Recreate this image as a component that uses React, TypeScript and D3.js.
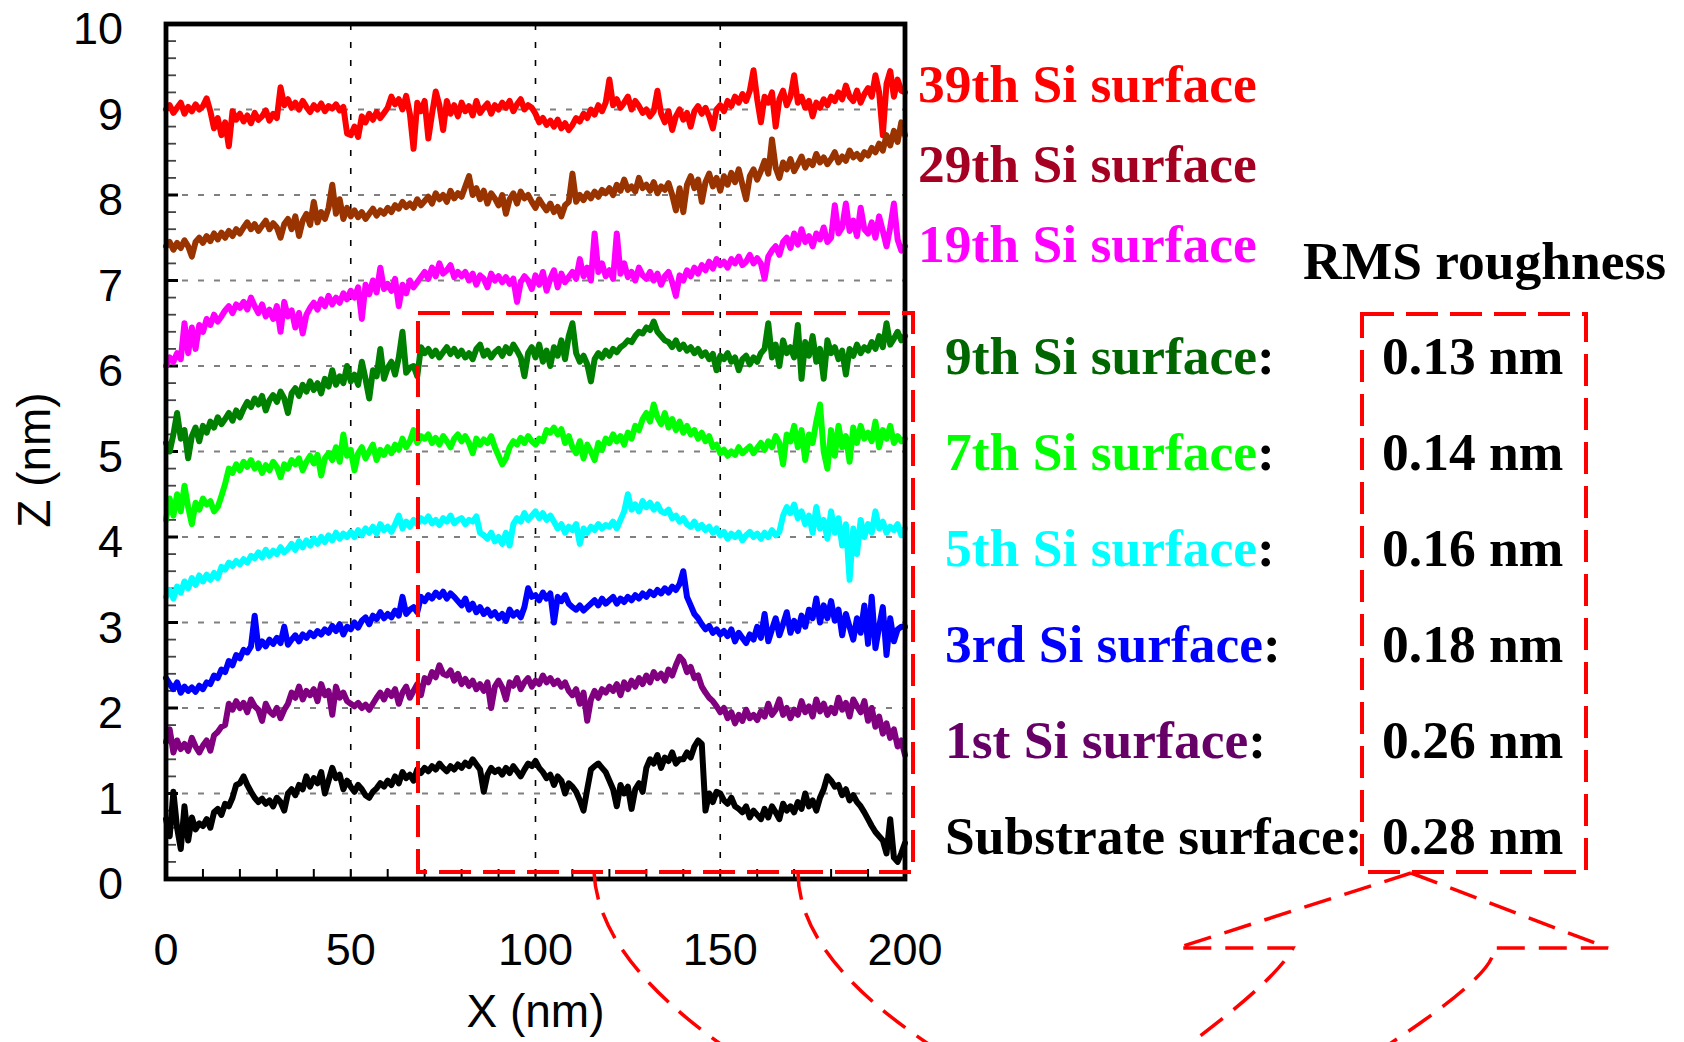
import * as d3 from 'd3'

const WIDTH = 1684
const HEIGHT = 1042
const MARGIN = { top: 24, right: 905, bottom: 879, left: 166 }

// profile heights (nm), one sample per nm from X = 0 to 200
const SI39 = [
  9.00, 9.05, 8.96, 9.02, 9.08, 8.95, 9.03, 8.98, 9.06, 9.00,
  9.04, 9.13, 8.98, 8.78, 8.90, 8.70, 8.85, 8.57, 8.98, 8.88,
  8.95, 8.86, 8.93, 8.84, 8.96, 8.88, 8.92, 8.99, 8.87, 8.95,
  8.90, 9.26, 9.05, 9.12, 9.02, 9.08, 9.00, 9.10, 9.03, 8.97,
  9.05, 9.00, 9.07, 8.98, 9.04, 9.01, 9.06, 8.99, 9.03, 8.72,
  8.70, 8.80, 8.68, 8.92, 8.85, 8.95, 8.88, 8.97, 8.90, 8.96,
  9.02, 9.15, 9.06, 9.12, 9.00, 9.16, 8.95, 8.54, 9.08, 8.98,
  9.10, 8.66, 8.95, 9.21, 9.05, 8.76, 9.10, 8.95, 9.05, 8.92,
  9.08, 8.98, 9.04, 8.93, 9.10, 8.96, 9.02, 9.07, 8.95, 9.05,
  9.00, 9.08, 9.02, 9.10, 8.98, 9.06, 9.12, 9.00, 9.05, 9.02,
  8.95, 8.85, 8.90, 8.82, 8.87, 8.80, 8.88, 8.78, 8.84, 8.76,
  8.82, 8.90, 8.86, 8.95, 8.90, 9.00, 8.94, 9.05, 8.98, 9.08,
  9.35, 9.05, 9.12, 9.02, 9.08, 9.15, 9.00, 9.10, 9.04, 8.96,
  9.00, 8.92, 8.98, 9.22, 8.95, 8.85, 8.98, 8.76, 8.92, 9.00,
  8.88, 8.96, 8.80, 8.98, 9.04, 8.95, 9.02, 8.92, 8.78, 9.00,
  9.05, 8.98, 9.10, 9.04, 9.15, 9.08, 9.18, 9.10, 9.22, 9.46,
  9.12, 8.85, 9.15, 9.08, 9.20, 8.80, 9.12, 9.22, 9.05, 9.15,
  9.40, 9.08, 9.15, 9.02, 9.10, 8.92, 9.08, 9.02, 9.12, 9.05,
  9.15, 9.10, 9.20, 9.12, 9.28, 9.15, 9.10, 9.22, 9.08, 9.18,
  9.25, 9.15, 9.40, 9.20, 8.70, 9.30, 9.45, 9.15, 9.35, 9.22,
  9.20,
]

const SI29 = [
  7.40, 7.45, 7.36, 7.44, 7.38, 7.47, 7.40, 7.28, 7.45, 7.50,
  7.44, 7.52, 7.46, 7.55, 7.48, 7.56, 7.50, 7.58, 7.52, 7.60,
  7.55, 7.62, 7.68, 7.60, 7.66, 7.58, 7.64, 7.70, 7.60, 7.67,
  7.62, 7.50, 7.66, 7.72, 7.60, 7.75, 7.52, 7.70, 7.78, 7.65,
  7.92, 7.68, 7.80, 7.72, 7.85, 8.12, 7.78, 7.95, 7.72, 7.85,
  7.75, 7.82, 7.74, 7.80, 7.72, 7.78, 7.84, 7.76, 7.82, 7.78,
  7.85, 7.80, 7.88, 7.84, 7.92, 7.86, 7.90, 7.85, 7.95, 7.88,
  7.93, 7.98, 7.90, 8.02, 7.95, 8.00, 7.92, 8.05, 7.96, 8.02,
  7.98, 8.10, 8.22, 8.00, 8.08, 7.95, 8.05, 7.90, 8.02, 7.96,
  7.88, 8.00, 7.78, 7.95, 8.02, 7.90, 8.04, 7.96, 8.00, 7.92,
  7.85, 7.95, 7.88, 7.82, 7.90, 7.80, 7.86, 7.75, 7.88, 7.92,
  8.25, 7.92, 8.00, 7.94, 8.02, 7.96, 8.04, 7.98, 8.06, 8.02,
  8.08, 8.00, 8.12, 8.05, 8.18, 8.06, 8.10, 8.04, 8.20, 8.08,
  8.12, 8.05, 8.15, 8.02, 8.10, 8.06, 8.14, 8.00, 7.82, 8.08,
  7.80, 8.12, 8.22, 8.08, 8.18, 7.92, 8.15, 8.25, 8.10, 8.20,
  8.05, 8.22, 8.12, 8.26, 8.15, 8.30, 8.12, 7.95, 8.22, 8.30,
  8.18, 8.28, 8.40, 8.25, 8.65, 8.32, 8.20, 8.38, 8.30, 8.42,
  8.28, 8.36, 8.45, 8.32, 8.40, 8.35, 8.48, 8.38, 8.44, 8.36,
  8.42, 8.50, 8.38, 8.45, 8.40, 8.52, 8.44, 8.48, 8.42, 8.50,
  8.46, 8.55, 8.50, 8.60, 8.52, 8.70, 8.58, 8.75, 8.62, 8.85,
  8.70,
]

const SI19 = [
  6.00, 6.10, 6.05, 6.15, 6.08, 6.50, 6.15, 6.45, 6.20, 6.48,
  6.40, 6.55, 6.48, 6.60, 6.52, 6.58, 6.65, 6.70, 6.62, 6.72,
  6.68, 6.75, 6.66, 6.80, 6.70, 6.62, 6.72, 6.58, 6.66, 6.55,
  6.70, 6.40, 6.75, 6.58, 6.65, 6.45, 6.62, 6.38, 6.60, 6.68,
  6.74, 6.66, 6.78, 6.70, 6.82, 6.72, 6.80, 6.74, 6.85, 6.78,
  6.88, 6.80, 6.92, 6.55, 6.95, 6.84, 7.00, 6.86, 7.15, 6.90,
  6.96, 6.88, 7.02, 6.70, 6.95, 6.85, 7.00, 6.92, 6.98, 7.04,
  7.10, 7.02, 7.15, 7.05, 7.20, 7.08, 7.12, 7.18, 7.04, 7.10,
  7.05, 7.10, 7.00, 7.08, 6.95, 7.06, 7.02, 6.92, 7.08, 7.00,
  7.05, 6.98, 7.04, 6.96, 7.02, 6.75, 6.98, 7.05, 7.00, 6.90,
  7.06, 6.95, 7.10, 6.88, 7.02, 7.12, 6.92, 7.08, 6.98, 7.04,
  7.10, 7.02, 7.25, 7.05, 7.15, 7.00, 7.55, 7.10, 7.20, 7.05,
  7.12, 7.02, 7.55, 7.08, 7.20, 7.04, 7.10, 7.00, 7.15, 7.06,
  7.02, 7.10, 7.00, 7.08, 6.95, 7.05, 7.10, 6.98, 6.82, 7.06,
  7.00, 7.12, 7.05, 7.15, 7.08, 7.18, 7.12, 7.22, 7.14, 7.25,
  7.18, 7.22, 7.15, 7.25, 7.20, 7.28, 7.18, 7.22, 7.30, 7.20,
  7.26, 7.20, 7.02, 7.28, 7.35, 7.40, 7.30, 7.45, 7.50, 7.38,
  7.55, 7.42, 7.60, 7.45, 7.52, 7.40, 7.55, 7.48, 7.62, 7.45,
  7.50, 7.88, 7.55, 7.62, 7.90, 7.58, 7.70, 7.52, 7.85, 7.60,
  7.55, 7.68, 7.50, 7.75, 7.58, 7.40, 7.62, 7.90, 7.48, 7.35,
  7.40,
]

const SI9 = [
  5.10, 5.00, 5.20, 5.45, 5.15, 5.25, 4.92, 5.18, 5.28, 5.12,
  5.30, 5.22, 5.35, 5.28, 5.40, 5.32, 5.38, 5.45, 5.36, 5.48,
  5.40, 5.50, 5.58, 5.52, 5.62, 5.55, 5.65, 5.48, 5.60, 5.66,
  5.58, 5.70, 5.62, 5.45, 5.68, 5.74, 5.65, 5.78, 5.70, 5.82,
  5.72, 5.80, 5.68, 5.85, 5.76, 5.95, 5.78, 5.88, 5.80, 6.00,
  5.82, 5.90, 5.78, 6.05, 5.85, 5.62, 5.95, 5.88, 6.20, 5.85,
  5.98, 6.05, 5.90, 6.10, 6.40, 5.92, 5.98, 6.00, 5.88, 6.22,
  6.15, 6.20, 6.12, 6.18, 6.10, 6.16, 6.22, 6.14, 6.20, 6.12,
  6.18, 6.10, 6.15, 6.08, 6.20, 6.25, 6.12, 6.18, 6.10, 6.16,
  6.20, 6.12, 6.22, 6.15, 6.25, 6.18, 6.10, 5.88, 6.15, 6.22,
  6.10, 6.25, 6.05, 6.18, 6.00, 6.22, 6.12, 6.30, 6.08, 6.35,
  6.50, 6.15, 6.05, 6.12, 6.02, 5.82, 6.08, 6.15, 6.10, 6.18,
  6.12, 6.20, 6.16, 6.22, 6.25, 6.30, 6.28, 6.35, 6.40, 6.38,
  6.45, 6.42, 6.52, 6.40, 6.35, 6.30, 6.28, 6.22, 6.30, 6.20,
  6.25, 6.18, 6.22, 6.15, 6.20, 6.12, 6.16, 6.08, 6.14, 5.95,
  6.12, 6.08, 6.15, 6.05, 6.10, 5.95, 6.08, 6.12, 6.02, 6.10,
  6.05, 6.15, 6.20, 6.50, 6.10, 6.25, 6.00, 6.30, 6.15, 6.22,
  6.10, 6.48, 5.85, 6.28, 6.12, 6.35, 6.05, 6.20, 5.85, 6.30,
  6.15, 6.22, 6.08, 6.18, 5.90, 6.20, 6.12, 6.25, 6.15, 6.22,
  6.18, 6.28, 6.20, 6.35, 6.22, 6.50, 6.25, 6.32, 6.40, 6.30,
  6.35,
]

const SI7 = [
  4.20, 4.45, 4.25, 4.50, 4.30, 4.60, 4.35, 4.15, 4.40, 4.32,
  4.45, 4.38, 4.42, 4.30, 4.35, 4.48, 4.62, 4.80, 4.75, 4.85,
  4.78, 4.88, 4.82, 4.90, 4.80, 4.86, 4.75, 4.84, 4.78, 4.88,
  4.82, 4.70, 4.85, 4.80, 4.90, 4.85, 4.92, 4.78, 4.88, 4.95,
  4.86, 4.96, 4.72, 4.92, 4.98, 4.90, 5.05, 4.88, 5.20, 4.95,
  5.02, 4.78, 4.98, 5.05, 4.92, 5.00, 5.08, 4.90, 5.02, 4.96,
  5.05, 4.98, 5.08, 5.02, 5.15, 5.05, 5.12, 5.25, 5.10, 5.18,
  5.15, 5.20, 5.10, 5.16, 5.08, 5.18, 5.12, 5.05, 5.15, 5.20,
  5.12, 5.18, 5.10, 4.98, 5.15, 5.08, 5.14, 5.10, 5.18, 5.05,
  4.95, 4.85, 4.92, 5.05, 5.12, 5.08, 5.16, 5.10, 5.18, 5.12,
  5.08, 5.15, 5.12, 5.25, 5.22, 5.28, 5.20, 5.26, 5.10, 5.18,
  5.05, 4.98, 5.12, 4.92, 5.08, 5.00, 4.90, 5.10, 5.02, 5.15,
  5.10, 5.20, 5.12, 5.18, 5.08, 5.22, 5.15, 5.30, 5.25, 5.38,
  5.45, 5.35, 5.55, 5.40, 5.32, 5.45, 5.28, 5.38, 5.25, 5.35,
  5.22, 5.30, 5.20, 5.25, 5.15, 5.22, 5.12, 5.18, 5.05, 5.08,
  4.98, 5.02, 4.95, 5.00, 4.96, 5.05, 4.98, 5.02, 5.06, 4.98,
  5.04, 5.10, 5.02, 5.12, 5.05, 5.18, 5.10, 4.85, 5.20, 5.12,
  5.30, 5.05, 5.25, 4.90, 5.20, 5.10, 5.35, 5.55, 5.00, 4.80,
  5.25, 4.95, 5.30, 5.05, 5.18, 4.88, 5.28, 5.10, 5.30, 5.15,
  5.22, 5.12, 5.35, 5.05, 5.25, 5.15, 5.30, 5.10, 5.18, 5.12,
  5.15,
]

const SI5 = [
  3.30, 3.38, 3.28, 3.42, 3.35, 3.48, 3.40, 3.52, 3.44, 3.55,
  3.48, 3.56, 3.50, 3.58, 3.52, 3.65, 3.62, 3.70, 3.66, 3.72,
  3.68, 3.74, 3.70, 3.78, 3.75, 3.82, 3.76, 3.85, 3.78, 3.84,
  3.80, 3.88, 3.82, 3.86, 3.92, 3.85, 3.95, 3.88, 3.96, 3.90,
  3.98, 3.92, 4.00, 3.94, 4.02, 3.96, 4.05, 3.98, 4.04, 4.00,
  4.06, 4.00, 4.08, 4.02, 4.10, 4.05, 4.12, 4.04, 4.15, 4.08,
  4.12, 4.06, 4.15, 4.25, 4.10, 4.18, 4.12, 4.20, 4.15, 4.22,
  4.18, 4.24, 4.16, 4.20, 4.14, 4.22, 4.18, 4.25, 4.16, 4.20,
  4.22, 4.15, 4.20, 4.18, 4.24, 4.05, 4.02, 3.98, 4.05, 3.95,
  4.00, 3.92, 4.05, 3.90, 4.15, 4.22, 4.18, 4.28, 4.20, 4.25,
  4.30, 4.22, 4.28, 4.20, 4.25, 4.18, 4.10, 4.15, 4.05, 4.12,
  4.08, 4.15, 3.92, 4.10, 4.05, 4.12, 4.08, 4.15, 4.10, 4.14,
  4.12, 4.18, 4.10, 4.20, 4.30, 4.50, 4.32, 4.38, 4.30, 4.42,
  4.35, 4.40, 4.32, 4.38, 4.30, 4.28, 4.32, 4.22, 4.25, 4.18,
  4.22, 4.15, 4.12, 4.18, 4.10, 4.14, 4.08, 4.12, 4.05, 4.10,
  4.02, 4.06, 3.98, 4.04, 4.00, 4.05, 3.96, 4.02, 4.06, 4.00,
  4.04, 3.98, 4.05, 4.00, 4.08, 4.02, 4.06, 4.25, 4.35, 4.28,
  4.38, 4.22, 4.30, 4.15, 4.25, 4.05, 4.35, 4.10, 4.20, 3.98,
  4.30, 4.05, 4.22, 3.90, 4.15, 3.50, 4.10, 3.80, 4.20, 4.00,
  4.15, 4.05, 4.30, 4.10, 4.18, 4.05, 4.12, 4.08, 4.15, 4.02,
  4.10,
]

const SI3 = [
  2.35, 2.28, 2.22, 2.30, 2.18, 2.25, 2.20, 2.24, 2.19, 2.26,
  2.22, 2.30, 2.28, 2.38, 2.35, 2.45, 2.42, 2.55, 2.50, 2.62,
  2.58, 2.68, 2.65, 2.72, 3.08, 2.70, 2.78, 2.72, 2.80, 2.75,
  2.82, 2.76, 2.95, 2.74, 2.80, 2.85, 2.78, 2.86, 2.82, 2.88,
  2.84, 2.90, 2.86, 2.92, 2.88, 2.96, 2.90, 2.98, 2.86, 2.95,
  2.92, 3.00, 2.94, 3.02, 3.06, 2.98, 3.08, 3.04, 3.12, 3.05,
  3.10, 3.06, 3.14, 3.08, 3.30, 3.10, 3.15, 3.18, 3.12, 3.30,
  3.25, 3.32, 3.28, 3.35, 3.30, 3.36, 3.28, 3.34, 3.30, 3.25,
  3.20, 3.28, 3.15, 3.22, 3.12, 3.18, 3.10, 3.15, 3.08, 3.12,
  3.05, 3.10, 3.02, 3.15, 3.08, 3.12, 3.06, 3.18, 3.40, 3.30,
  3.32, 3.26, 3.35, 3.28, 3.34, 3.00, 3.30, 3.25, 3.32, 3.22,
  3.18, 3.15, 3.20, 3.14, 3.18, 3.22, 3.26, 3.20, 3.28, 3.22,
  3.26, 3.30, 3.22, 3.28, 3.24, 3.30, 3.26, 3.32, 3.28, 3.34,
  3.30, 3.36, 3.32, 3.38, 3.34, 3.40, 3.35, 3.42, 3.38, 3.45,
  3.60, 3.30, 3.20, 3.10, 3.05, 2.98, 2.92, 2.96, 2.88, 2.92,
  2.86, 2.90, 2.84, 2.92, 2.78, 2.88, 2.82, 2.76, 2.86, 2.80,
  2.95, 2.82, 3.10, 2.78, 2.92, 3.05, 2.85, 2.98, 3.12, 2.88,
  3.02, 2.90, 3.08, 2.95, 3.15, 3.05, 3.28, 3.00, 3.20, 3.05,
  3.25, 3.02, 3.15, 2.85, 3.10, 2.95, 2.80, 3.05, 2.88, 3.20,
  2.75, 3.30, 2.70, 2.95, 3.18, 2.62, 3.05, 2.78, 2.92, 2.95,
  2.95,
]

const SI1 = [
  1.60, 1.75, 1.48, 1.62, 1.52, 1.58, 1.50, 1.65, 1.55, 1.48,
  1.56, 1.62, 1.50, 1.68, 1.72, 1.78, 1.80, 2.05, 1.98, 2.08,
  2.00, 2.06, 1.95, 2.10, 2.02, 1.98, 1.85, 2.05, 1.96, 1.92,
  2.00, 1.88, 1.98, 2.05, 2.18, 2.12, 2.25, 2.10, 2.20, 2.15,
  2.22, 2.08, 2.28, 2.15, 2.20, 1.92, 2.25, 2.12, 2.18, 2.08,
  2.05, 2.02, 2.06, 2.00, 2.04, 1.98, 2.05, 2.12, 2.18, 2.10,
  2.20, 2.14, 2.22, 2.05, 2.18, 2.25, 2.12, 2.20, 2.28, 2.15,
  2.35, 2.30, 2.42, 2.36, 2.50, 2.40, 2.38, 2.44, 2.32, 2.40,
  2.28, 2.34, 2.26, 2.32, 2.22, 2.28, 2.20, 2.30, 2.00, 2.25,
  2.32, 2.24, 2.10, 2.30, 2.26, 2.35, 2.22, 2.30, 2.35, 2.25,
  2.32, 2.28, 2.38, 2.30, 2.35, 2.28, 2.32, 2.25, 2.30, 2.20,
  2.15, 2.22, 2.05, 2.18, 1.85, 2.10, 2.20, 2.12, 2.22, 2.18,
  2.25, 2.20, 2.28, 2.15, 2.30, 2.22, 2.32, 2.25, 2.35, 2.28,
  2.38, 2.30, 2.42, 2.35, 2.40, 2.32, 2.45, 2.38, 2.50, 2.60,
  2.55, 2.42, 2.48, 2.35, 2.38, 2.25, 2.18, 2.12, 2.08, 2.02,
  1.95, 2.00, 1.88, 1.95, 1.82, 1.92, 1.85, 1.98, 1.88, 1.92,
  1.86, 1.96, 1.90, 2.05, 1.92, 1.98, 2.10, 1.92, 2.00, 1.88,
  1.98, 1.92, 2.08, 1.95, 2.02, 1.90, 2.10, 1.96, 2.05, 1.92,
  2.00, 1.94, 2.12, 1.98, 2.06, 1.90, 2.10, 2.02, 1.95, 2.08,
  1.85, 2.00, 1.78, 1.90, 1.70, 1.82, 1.65, 1.75, 1.55, 1.62,
  1.45,
]

const SUBSTRATE = [
  0.70, 0.50, 1.02, 0.60, 0.35, 0.85, 0.45, 0.72, 0.58, 0.65,
  0.62, 0.70, 0.60, 0.78, 0.82, 0.75, 0.88, 0.85, 0.95, 1.10,
  1.12, 1.20, 1.10, 1.02, 0.95, 0.90, 0.94, 0.88, 0.92, 0.85,
  0.95, 0.90, 0.80, 1.00, 1.05, 0.98, 1.10, 1.05, 1.20, 1.08,
  1.18, 1.12, 1.25, 1.00, 1.15, 1.30, 1.18, 1.22, 1.05, 1.15,
  1.08, 1.02, 1.10, 1.05, 0.98, 0.95, 1.02, 1.06, 1.12, 1.08,
  1.15, 1.10, 1.20, 1.12, 1.25, 1.18, 1.22, 1.15, 1.28, 1.24,
  1.30, 1.26, 1.32, 1.28, 1.35, 1.30, 1.26, 1.32, 1.28, 1.34,
  1.30, 1.36, 1.32, 1.40, 1.34, 1.28, 1.02, 1.22, 1.30, 1.25,
  1.28, 1.22, 1.30, 1.24, 1.32, 1.26, 1.20, 1.28, 1.35, 1.32,
  1.38, 1.30, 1.25, 1.18, 1.22, 1.10, 1.20, 1.15, 1.00, 1.12,
  1.08, 1.02, 0.92, 0.80, 1.05, 1.28, 1.32, 1.35, 1.30, 1.25,
  1.15, 1.05, 0.85, 1.10, 1.00, 1.08, 0.82, 1.05, 1.12, 1.02,
  1.30, 1.40, 1.35, 1.45, 1.30, 1.42, 1.38, 1.48, 1.35, 1.40,
  1.40, 1.48, 1.42, 1.55, 1.62, 1.58, 0.80, 1.00, 0.90, 1.02,
  1.00, 0.92, 0.88, 0.95, 0.85, 0.82, 0.78, 0.85, 0.72, 0.80,
  0.75, 0.70, 0.82, 0.72, 0.85, 0.78, 0.70, 0.88, 0.80, 0.85,
  0.78, 0.90, 0.82, 1.00, 0.85, 0.92, 0.80, 0.95, 1.05, 1.20,
  1.15, 1.08, 1.10, 0.98, 1.05, 0.92, 0.98, 0.90, 0.85, 0.78,
  0.70, 0.62, 0.55, 0.50, 0.45, 0.30, 0.70, 0.25, 0.20, 0.30,
  0.42,
]

const SERIES = [SI39, SI29, SI19, SI9, SI7, SI5, SI3, SI1, SUBSTRATE]
const LINE_COLORS = ['#ff0000', '#993300', '#ff00ff', '#008000', '#00ff00', '#00ffff', '#0000ff', '#800080', '#000000']

const TOP_LABELS = ['39th Si surface', '29th Si surface', '19th Si surface']
const TOP_COLORS = ['#ff0000', '#a50021', '#ff00ff']

const RMS_LABELS = ['9th Si surface', '7th Si surface', '5th Si surface', '3rd Si surface', '1st Si surface', 'Substrate surface']
const RMS_COLORS = ['#006600', '#00ff00', '#00ffff', '#0000ff', '#660066', '#000000']
const RMS_VALUES = ['0.13 nm', '0.14 nm', '0.16 nm', '0.18 nm', '0.26 nm', '0.28 nm']

const X_TICKS = [0, 50, 100, 150, 200]
const Y_TICKS = [0, 1, 2, 3, 4, 5, 6, 7, 8, 9, 10]
const X_MAX = 200

const SANS = '"Liberation Sans", Arial, sans-serif'
const SERIF = '"Liberation Serif", "Times New Roman", serif'
const RED = '#ff0000'
const DASH = '32 12'
const LABEL_SIZE = 53.5

export default function App() {
  const x = d3.scaleLinear().domain([0, X_MAX]).range([MARGIN.left, MARGIN.right])
  const y = d3.scaleLinear().domain([0, 10]).range([MARGIN.bottom, MARGIN.top])

  const line = (vals: number[]) =>
    d3.line<number>()
      .x((_, i) => x((i * X_MAX) / (vals.length - 1)))
      .y(d => y(d))(vals) || ''

  const minorY = d3.range(0, 50).map(i => i * 0.2).filter(v => v > 0)
  const minorX = d3.range(1, 20).map(i => i * 10)

  return (
    <div style={{ position: 'absolute', left: 0, top: 0, width: WIDTH, height: HEIGHT, background: '#fff' }}>
      <svg width={WIDTH} height={HEIGHT} viewBox={`0 0 ${WIDTH} ${HEIGHT}`}>
        <rect width={WIDTH} height={HEIGHT} fill="#fff" />

        {/* grid */}
        {Y_TICKS.filter(v => v > 0 && v < 10).map(v => (
          <line key={`gy${v}`} x1={MARGIN.left} x2={MARGIN.right} y1={y(v)} y2={y(v)}
            stroke="#808080" strokeWidth={2.2} strokeDasharray="6 10" />
        ))}
        {X_TICKS.filter(v => v > 0 && v < X_MAX).map(v => (
          <line key={`gx${v}`} x1={x(v)} x2={x(v)} y1={MARGIN.top} y2={MARGIN.bottom}
            stroke="#000" strokeWidth={1.6} strokeDasharray="6 12" />
        ))}

        {/* ticks */}
        {minorY.map(v => {
          const major = Math.abs(v - Math.round(v)) < 1e-6
          return (
            <line key={`ty${v}`} x1={MARGIN.left} x2={MARGIN.left + (major ? 12 : 10)} y1={y(v)} y2={y(v)}
              stroke={major ? '#000' : '#444'} strokeWidth={major ? 3 : 1.8} />
          )
        })}
        {minorX.map(v => (
          <line key={`tx${v}`} x1={x(v)} x2={x(v)} y1={MARGIN.bottom} y2={MARGIN.bottom - 10}
            stroke="#000" strokeWidth={2} />
        ))}

        {/* profiles */}
        {SERIES.map((vals, i) => (
          <path key={`s${i}`} d={line(vals)} fill="none" stroke={LINE_COLORS[i]}
            strokeWidth={6} strokeLinejoin="round" strokeLinecap="round" />
        ))}

        {/* frame */}
        <rect x={MARGIN.left} y={MARGIN.top} width={MARGIN.right - MARGIN.left} height={MARGIN.bottom - MARGIN.top}
          fill="none" stroke="#000" strokeWidth={4.8} />

        {/* highlighted region */}
        <rect x={418} y={313} width={495} height={559} fill="none" stroke={RED} strokeWidth={4} strokeDasharray={DASH} />
        <rect x={1362} y={314} width={224} height={558} fill="none" stroke={RED} strokeWidth={4} strokeDasharray={DASH} />

        {/* magnifier decoration */}
        <g fill="none" stroke={RED} strokeWidth={3.5} strokeDasharray="28 14">
          <path d="M594,872 Q598,957 722,1045" />
          <path d="M798,872 Q798,957 930,1045" />
          <path d="M1411,873 L1177,948 L1293,948 Q1277,979 1188,1045" />
          <path d="M1411,873 L1608,948 L1493,948 Q1500,971 1388,1045" />
        </g>

        {/* tick labels */}
        {Y_TICKS.map(v => (
          <text key={`ly${v}`} x={123} y={y(v) + 20} textAnchor="end" fontSize={45} fontFamily={SANS}>{v}</text>
        ))}
        {X_TICKS.map(v => (
          <text key={`lx${v}`} x={x(v)} y={965} textAnchor="middle" fontSize={45} fontFamily={SANS}>{v}</text>
        ))}
        <text x={x(100)} y={1027} textAnchor="middle" fontSize={46} fontFamily={SANS}>X (nm)</text>
        <text transform={`translate(50,${y(4.9)}) rotate(-90)`} textAnchor="middle" fontSize={46} fontFamily={SANS}>Z (nm)</text>

        {/* labels */}
        {TOP_LABELS.map((t, i) => (
          <text key={t} x={918} y={102 + i * 80} fontSize={LABEL_SIZE} fontWeight="bold" fontFamily={SERIF} fill={TOP_COLORS[i]}>{t}</text>
        ))}
        <text x={1303} y={279} fontSize={LABEL_SIZE} fontWeight="bold" fontFamily={SERIF} fill="#000">RMS roughness</text>
        {RMS_LABELS.map((t, i) => (
          <g key={t}>
            <text x={945} y={374 + i * 96} fontSize={LABEL_SIZE} fontWeight="bold" fontFamily={SERIF}>
              <tspan fill={RMS_COLORS[i]}>{t}</tspan><tspan fill="#000">:</tspan>
            </text>
            <text x={1382} y={374 + i * 96} fontSize={LABEL_SIZE} fontWeight="bold" fontFamily={SERIF} fill="#000">{RMS_VALUES[i]}</text>
          </g>
        ))}
      </svg>
    </div>
  )
}
